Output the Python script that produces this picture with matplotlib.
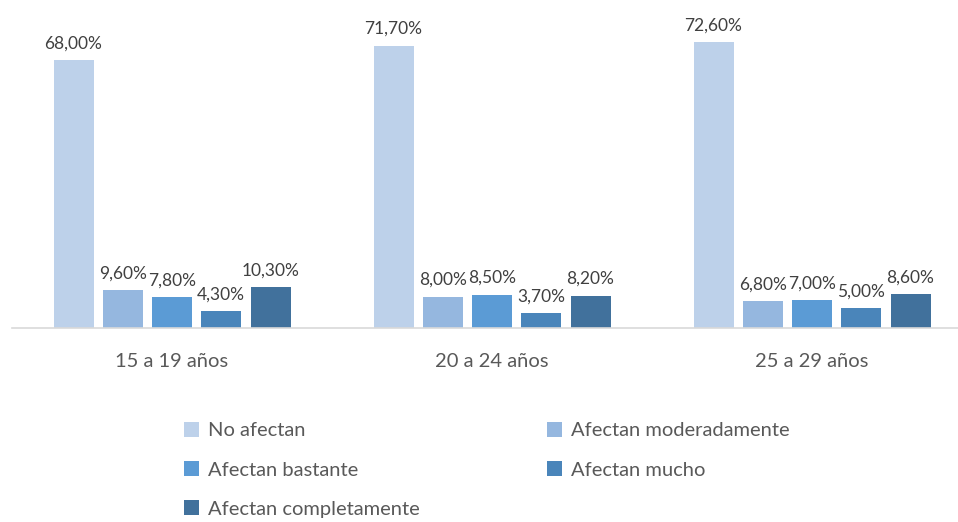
import matplotlib.pyplot as plt
import numpy as np

plt.rcParams['font.family'] = ['Lato', 'DejaVu Sans']

grupos = ['15 a 19 años', '20 a 24 años', '25 a 29 años']
series = ['No afectan', 'Afectan moderadamente', 'Afectan bastante',
          'Afectan mucho', 'Afectan completamente']
valores = [
    [68.0, 71.7, 72.6],
    [9.6, 8.0, 6.8],
    [7.8, 8.5, 7.0],
    [4.3, 3.7, 5.0],
    [10.3, 8.2, 8.6],
]
colores = ['#BDD1EA', '#95B7DF', '#5B9BD5', '#4A85BA', '#41719C']

W, H = 958, 522
fig = plt.figure(figsize=(W / 100, H / 100), dpi=100)
# axes in pixel terms: baseline at y=328, top at y=13
ax = fig.add_axes([12 / W, 1 - 328 / H, (958 - 12) / W, (328 - 13) / H])

x = np.arange(len(grupos))
paso = 49.25 / 320
ancho = 40 / 320
barras = []
for i, (s, v, c) in enumerate(zip(series, valores, colores)):
    pos = x + (i - 2) * paso
    b = ax.bar(pos, v, width=ancho, color=c, label=s)
    barras.append(b)
    for xi, vi in zip(pos, v):
        ax.text(xi, vi + 2.2, f'{vi:.2f}%'.replace('.', ','), ha='center', va='bottom',
                fontsize=12.5, color='#404040')

ax.set_xlim(-0.5, (958 - 172) / 320)
ax.set_ylim(0, 80)
for lado in ['top', 'right', 'left']:
    ax.spines[lado].set_visible(False)
ax.spines['bottom'].set_color('#D9D9D9')
ax.spines['bottom'].set_linewidth(1.2)
ax.set_yticks([])
ax.set_xticks(x)
ax.set_xticklabels(grupos, fontsize=14.5, color='#595959')
ax.tick_params(axis='x', length=0, pad=18)

orden = [0, 2, 4, 1, 3]
leg = fig.legend([barras[i] for i in orden], [series[i] for i in orden],
                 ncol=2, loc='upper left', bbox_to_anchor=(176 / W, 1 - 414 / H),
                 frameon=False, fontsize=14.5, handlelength=0.75, handleheight=0.75,
                 handletextpad=0.45, columnspacing=6.3, labelspacing=1.08,
                 labelcolor='#595959', borderaxespad=0)

fig.savefig('out.png', dpi=100)
